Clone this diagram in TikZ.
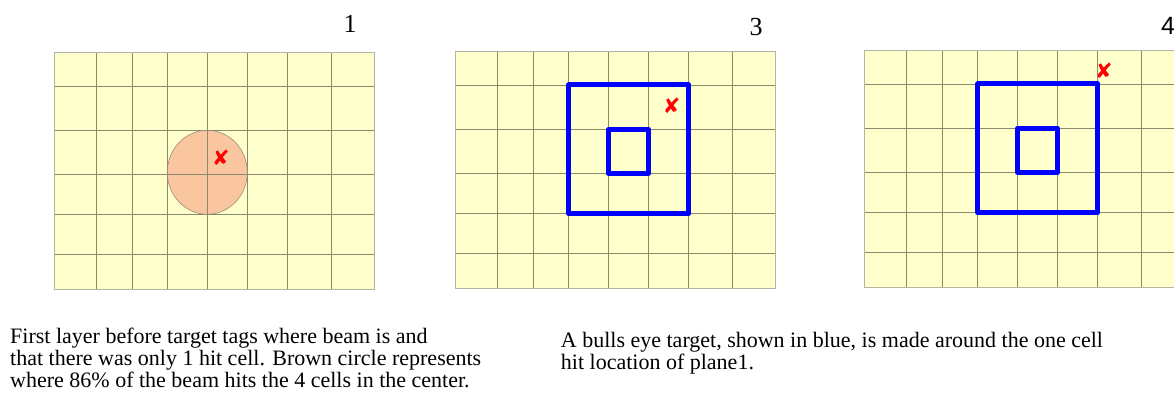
\documentclass[tikz,border=0pt]{standalone}
\usepackage{fontspec}
\setmainfont{Liberation Serif}
\newfontfamily\symfont{DejaVu Sans}
\newfontfamily\labelsans{Liberation Sans}
\definecolor{cellfill}{HTML}{FFFFCC}
\definecolor{gridline}{HTML}{8A8A6C}
\definecolor{frameline}{HTML}{B4B4A4}
\definecolor{beamfill}{HTML}{F9C6A0}
\definecolor{beamline}{HTML}{A08C7C}

\begin{document}
\begin{tikzpicture}[x=1pt, y=-1pt,
    cellgrid/.style={draw=gridline, line width=0.6pt},
    planeframe/.style={draw=frameline, line width=0.9pt},
    target/.style={draw=blue, line width=5pt, line join=round},
    hitmark/.style={text=red, font=\symfont\fontsize{21}{21}\selectfont, inner sep=0pt},
    planeno/.style={font=\fontsize{26}{26}\selectfont, inner sep=0pt, anchor=base},
    caption/.style={font=\fontsize{22}{22}\selectfont, align=left, inner sep=0pt, anchor=base west}]
  \useasboundingbox (0,0) rectangle (1174,407);
  \coordinate (p1) at (54.3,52.3);
  \coordinate (p3) at (455.3,51.3);
  \coordinate (p4) at (864.3,50.3);
  \foreach \pl in {p1,p3,p4}
    \fill[cellfill] (\pl) rectangle ++(320,237);
  \begin{scope}[shift={(p1)}]
    \fill[beamfill] (153,120) ellipse [x radius=40, y radius=42];
  \end{scope}
  \foreach \pl in {p1,p3,p4} {
    \begin{scope}[shift={(\pl)}]
      \foreach \gx in {42,78,113,153,193,233,277}
        \draw[cellgrid] (\gx,0) -- (\gx,237);
      \foreach \gy in {34,78,122,162,202}
        \draw[cellgrid] (0,\gy) -- (320,\gy);
      \draw[planeframe] (0,0) rectangle (320,237);
    \end{scope}
  }
  \begin{scope}[shift={(p1)}]
    \draw[beamline, line width=0.6pt] (153,120) ellipse [x radius=40, y radius=42];
    \node[hitmark] (hit1) at (166.7,105) {✘};
  \end{scope}
  \foreach \pl/\hx/\hy in {p3/216.4/54.7, p4/239.7/20.4} {
    \begin{scope}[shift={(\pl)}]
      \draw[target] (113.5,33.5) rectangle (233.5,162.5);
      \draw[target] (153,78) rectangle (193.5,122);
      \node[hitmark] (hit\pl) at (\hx,\hy) {✘};
    \end{scope}
  }
  \node[planeno] (lbl1) at (350,32.3) {1};
  \node[planeno] (lbl3) at (756,35.7) {3};
  \node[planeno, anchor=base west, font=\labelsans\fontsize{25}{25}\selectfont] (lbl4) at (1161,34.3) {4};
  \node[caption] (cap1) at (10,387.3) {First layer before target tags where beam is and\\
    that there was only 1 hit cell. Brown circle represents\\
    where 86\% of the beam hits the 4 cells in the center.};
  \node[caption] (cap3) at (560.7,369) {A bulls eye target, shown in blue, is made around the one cell\\
    hit location of plane1.};
\end{tikzpicture}
\end{document}
